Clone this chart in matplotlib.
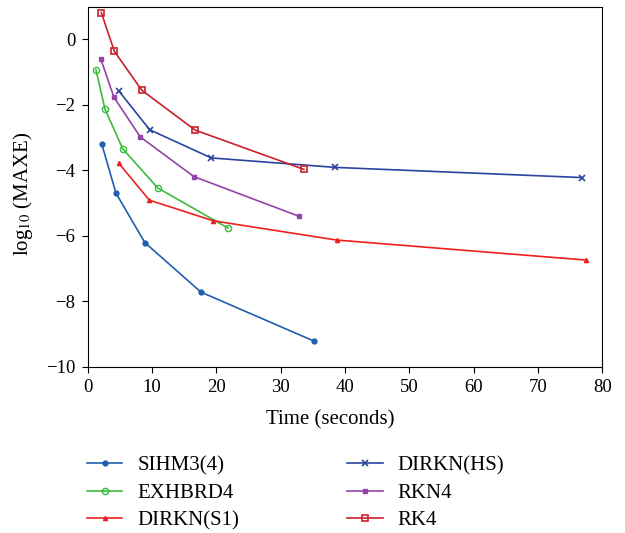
import matplotlib
matplotlib.use("Agg")
import matplotlib.pyplot as plt

plt.rcParams["font.family"] = ["Liberation Serif", "DejaVu Serif"]
plt.rcParams["mathtext.fontset"] = "stix"

# data
sihm_t = [2.18, 4.4, 8.9, 17.6, 35.2]
sihm_e = [-3.19, -4.70, -6.21, -7.72, -9.22]

exh_t = [1.29, 2.69, 5.44, 10.9, 21.8]
exh_e = [-0.93, -2.13, -3.34, -4.54, -5.76]

s1_t = [4.82, 9.58, 19.5, 38.7, 77.4]
s1_e = [-3.78, -4.91, -5.54, -6.13, -6.74]

hs_t = [4.82, 9.64, 19.2, 38.5, 76.8]
hs_e = [-1.57, -2.76, -3.62, -3.91, -4.22]

rkn_t = [2.02, 4.09, 8.18, 16.5, 32.8]
rkn_e = [-0.59, -1.77, -2.98, -4.19, -5.40]

rk4_t = [2.12, 4.14, 8.4, 16.7, 33.6]
rk4_e = [0.82, -0.36, -1.55, -2.77, -3.97]

fig = plt.figure(figsize=(6.25, 5.33), dpi=100)
ax = fig.add_axes([0.1403, 0.312, 0.8234, 0.6754])

ax.plot(sihm_t, sihm_e, color="#1f5fae", marker="o", ms=3.5, lw=1.2, label="SIHM3(4)")
ax.plot(exh_t, exh_e, color="#3dba3d", marker="o", ms=4.5, mfc="none", mew=1.0, lw=1.2, label="EXHBRD4")
ax.plot(s1_t, s1_e, color="#f02020", marker="^", ms=3, lw=1.2, label="DIRKN(S1)")
ax.plot(hs_t, hs_e, color="#2a44a0", marker="x", ms=4, mew=1.2, lw=1.2, label="DIRKN(HS)")
ax.plot(rkn_t, rkn_e, color="#9443a8", marker="s", ms=3.5, lw=1.2, label="RKN4")
ax.plot(rk4_t, rk4_e, color="#c8202c", marker="s", ms=4.5, mfc="none", mew=1.2, lw=1.2, label="RK4")

ax.set_xlim(0, 80)
ax.set_ylim(-10, 1)
ax.set_xticks(range(0, 81, 10))
ax.set_yticks(range(-10, 1, 2))
ax.tick_params(labelsize=13.5, direction="out", length=4, pad=5)
ax.set_xlabel("Time (seconds)", fontsize=15)
ax.set_ylabel(r"log$_{10}$ (MAXE)", fontsize=15)
ax.xaxis.set_label_coords(0.471, -0.12)
ax.yaxis.set_label_coords(-0.102, 0.48)

fig.legend(loc="upper left", bbox_to_anchor=(0.1256, 0.1604), ncol=2, frameon=False,
           fontsize=15, handlelength=1.7, handletextpad=0.72, columnspacing=5.2,
           labelspacing=0.38, borderaxespad=0)

fig.savefig("out.png", dpi=100)
